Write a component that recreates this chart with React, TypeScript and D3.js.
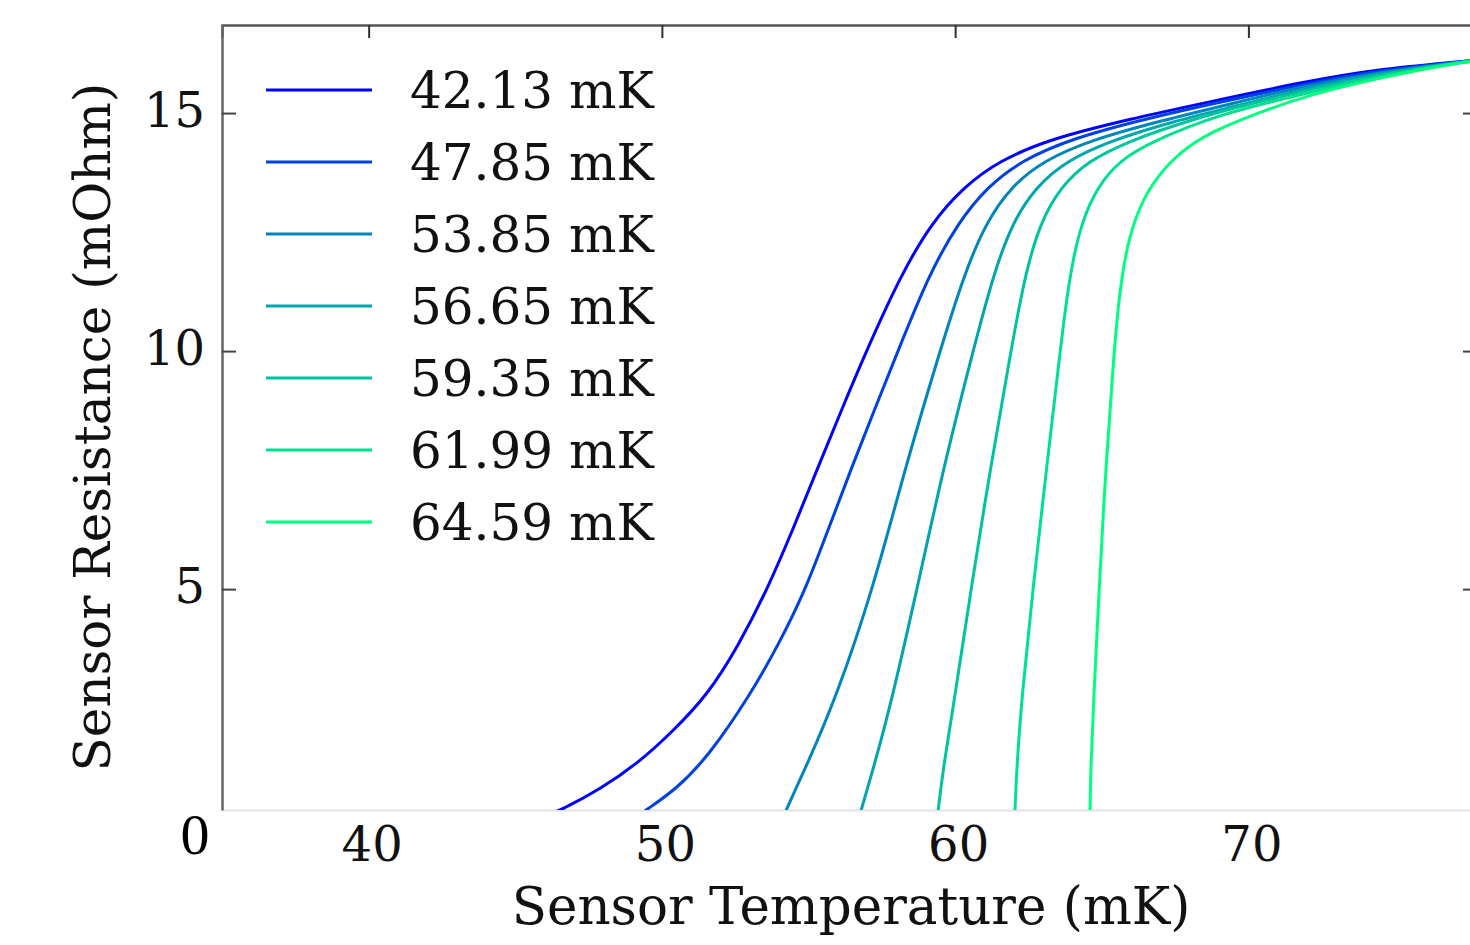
import React, { useEffect, useRef } from 'react'
import * as d3 from 'd3'

// bath temperatures (legend), mK
const bathTemps = [42.13, 47.85, 53.85, 56.65, 59.35, 61.99, 64.59]

// R(T) curves: [sensor temperature mK, resistance mOhm]
const curve4213 = [[45.9, 0.2], [46.56, 0.36], [47.9, 0.8], [49.2, 1.35], [50.35, 2.0], [51.55, 2.77], [52.6, 3.8], [53.6, 5.0], [54.5, 6.3], [55.35, 7.6], [56.15, 8.8], [56.97, 10.0], [58.15, 11.6], [59.2, 12.7], [60.3, 13.45], [61.5, 14.0], [63.3, 14.47], [66.0, 14.88], [68.4, 15.2], [72.0, 15.67], [74.5, 15.93], [77.56, 16.1], [78.5, 16.15]]
const curve4785 = [[49.1, 0.2], [49.46, 0.36], [50.5, 0.8], [51.6, 1.5], [53.0, 2.77], [53.95, 3.8], [54.91, 5.0], [55.7, 6.3], [56.5, 7.6], [57.27, 8.8], [58.05, 10.0], [59.1, 11.6], [60.1, 12.7], [61.1, 13.45], [62.25, 14.0], [64.0, 14.47], [66.5, 14.88], [68.8, 15.2], [72.0, 15.62], [74.5, 15.9], [77.56, 16.1], [78.5, 16.15]]
const curve5385 = [[54.15, 0.2], [54.23, 0.36], [54.98, 1.35], [55.97, 2.77], [57.2, 5.0], [58.32, 7.6], [59.48, 10.0], [60.3, 11.6], [61.05, 12.7], [61.9, 13.45], [63.0, 14.0], [64.7, 14.45], [67.1, 14.85], [69.3, 15.18], [72.0, 15.58], [74.5, 15.87], [77.56, 16.1], [78.5, 16.15]]
const curve5665 = [[56.74, 0.2], [56.79, 0.36], [57.27, 1.35], [57.88, 2.77], [58.7, 5.0], [59.62, 7.6], [60.61, 10.0], [61.3, 11.6], [61.95, 12.7], [62.75, 13.45], [63.8, 14.0], [65.3, 14.42], [67.4, 14.82], [69.6, 15.15], [72.0, 15.53], [74.5, 15.84], [77.56, 16.1], [78.5, 16.15]]
const curve5935 = [[59.4, 0.2], [59.42, 0.36], [59.62, 1.35], [60.0, 2.77], [60.54, 5.0], [61.22, 7.6], [61.9, 10.0], [62.38, 11.6], [62.9, 12.7], [63.6, 13.45], [64.55, 14.0], [65.9, 14.4], [67.5, 14.75], [69.4, 15.1], [72.0, 15.48], [74.5, 15.81], [77.56, 16.1], [78.5, 16.15]]
const curve6199 = [[62.03, 0.2], [62.04, 0.36], [62.11, 1.35], [62.28, 2.77], [62.65, 5.0], [63.13, 7.6], [63.58, 10.0], [63.9, 11.6], [64.3, 12.7], [64.85, 13.45], [65.6, 14.0], [66.7, 14.4], [69.0, 14.98], [72.0, 15.42], [74.5, 15.78], [77.56, 16.1], [78.5, 16.15]]
const curve6459 = [[64.595, 0.2], [64.6, 0.36], [64.63, 1.35], [64.73, 2.77], [64.91, 5.0], [65.14, 7.6], [65.42, 10.0], [65.6, 11.2], [65.85, 12.2], [66.25, 13.0], [66.85, 13.65], [67.7, 14.2], [68.7, 14.6], [70.3, 15.0], [72.0, 15.37], [74.5, 15.75], [77.56, 16.1], [78.5, 16.15]]
const curves = [curve4213, curve4785, curve5385, curve5665, curve5935, curve6199, curve6459]

const xTicks = [40, 50, 60, 70]
const yTicks = [5, 10, 15]

const W = 1470, H = 945
const FONT = 'DejaVu Serif'

function drawChart(node) {
  const svg = d3.select(node)
  svg.selectAll('*').remove()

  const x = d3.scaleLinear().domain([35, 78]).range([222, 1483])
  const y = d3.scaleLinear().domain([0.36, 16.85]).range([810, 25])

  // winter colormap, normalised by bath temperature
  const winter = d3.interpolateRgb('#0000ff', '#00ff80')
  const tMin = d3.min(bathTemps), tMax = d3.max(bathTemps)
  const color = (t) => winter((t - tMin) / (tMax - tMin))

  svg.append('defs').append('clipPath').attr('id', 'plot-clip')
    .append('rect')
    .attr('x', x(35)).attr('y', y(16.85))
    .attr('width', x(78) - x(35)).attr('height', y(0.36) - y(16.85))

  // bottom line (light) with tick labels, no ticks
  const bottom = svg.append('g')
    .attr('transform', `translate(0,${y(0.36)})`)
    .call(d3.axisBottom(x).tickValues(xTicks).tickSize(0).tickPadding(16))
  bottom.select('.domain').attr('stroke', '#e2e2e2').attr('stroke-width', 2)
  bottom.selectAll('text')
    .attr('font-family', FONT).attr('font-size', 48).attr('fill', '#111')
    .attr('x', 3).attr('dy', '0.72em')

  // top spine with inward ticks
  const top = svg.append('g')
    .attr('transform', `translate(0,${y(16.85)})`)
    .call(d3.axisTop(x).tickValues(xTicks).tickSize(-13).tickFormat(() => ''))
  top.select('.domain').attr('stroke', '#555').attr('stroke-width', 2.5)
  top.selectAll('.tick line').attr('stroke', '#333').attr('stroke-width', 2)

  // left spine
  const left = svg.append('g')
    .attr('transform', `translate(${x(35)},0)`)
    .call(d3.axisLeft(y).tickValues(yTicks).tickSize(-14).tickPadding(18).tickSizeOuter(0))
  left.select('.domain').attr('stroke', '#666').attr('stroke-width', 2.5)
  left.selectAll('.tick line').attr('stroke', '#444').attr('stroke-width', 2)
  left.selectAll('text')
    .attr('font-family', FONT).attr('font-size', 48).attr('fill', '#111')
    .attr('x', -17).attr('dy', '0.28em')

  // right side ticks (spine itself falls off the crop)
  const right = svg.append('g')
    .attr('transform', `translate(${x(78)},0)`)
    .call(d3.axisRight(y).tickValues(yTicks).tickSize(-20).tickFormat(() => '').tickSizeOuter(0))
  right.select('.domain').attr('stroke', '#555').attr('stroke-width', 2.5)
  right.selectAll('.tick line').attr('stroke', '#444').attr('stroke-width', 2)

  // curves (b-spline through the read points keeps them smooth)
  const line = d3.line()
    .x((d) => x(d[0]))
    .y((d) => y(d[1]))
    .curve(d3.curveBasis)

  svg.append('g')
    .attr('clip-path', 'url(#plot-clip)')
    .selectAll('path')
    .data(curves)
    .enter()
    .append('path')
    .attr('d', line)
    .attr('fill', 'none')
    .attr('stroke', (d, i) => color(bathTemps[i]))
    .attr('stroke-width', 3)

  // legend
  const legend = svg.append('g')
  bathTemps.forEach((t, i) => {
    const ly = 90 + i * 72
    legend.append('line')
      .attr('x1', 266).attr('x2', 372).attr('y1', ly).attr('y2', ly)
      .attr('stroke', color(t)).attr('stroke-width', 3)
    legend.append('text')
      .attr('x', 410).attr('y', ly).attr('dy', '0.36em')
      .attr('font-family', FONT).attr('font-size', 50).attr('fill', '#111')
      .text(t.toFixed(2) + ' mK')
  })

  // axis captions
  svg.append('text')
    .attr('x', 851).attr('y', 924)
    .attr('text-anchor', 'middle')
    .attr('font-family', FONT).attr('font-size', 51.5).attr('fill', '#111')
    .text('Sensor Temperature (mK)')

  svg.append('text')
    .attr('transform', 'translate(110,427) rotate(-90)')
    .attr('text-anchor', 'middle')
    .attr('font-family', FONT).attr('font-size', 50).attr('fill', '#111')
    .text('Sensor Resistance (mOhm)')

  // the lone "0" pasted at the origin
  svg.append('text')
    .attr('x', 195).attr('y', 854)
    .attr('text-anchor', 'middle')
    .attr('font-family', 'Liberation Serif').attr('font-size', 58).attr('fill', '#000')
    .text('0')
}

export default function App() {
  const ref = useRef(null)
  useEffect(() => {
    drawChart(ref.current)
  }, [])
  return (
    <svg
      ref={ref}
      width={W}
      height={H}
      viewBox={`0 0 ${W} ${H}`}
      style={{ position: 'absolute', left: 0, top: 0, background: '#fff' }}
    />
  )
}
